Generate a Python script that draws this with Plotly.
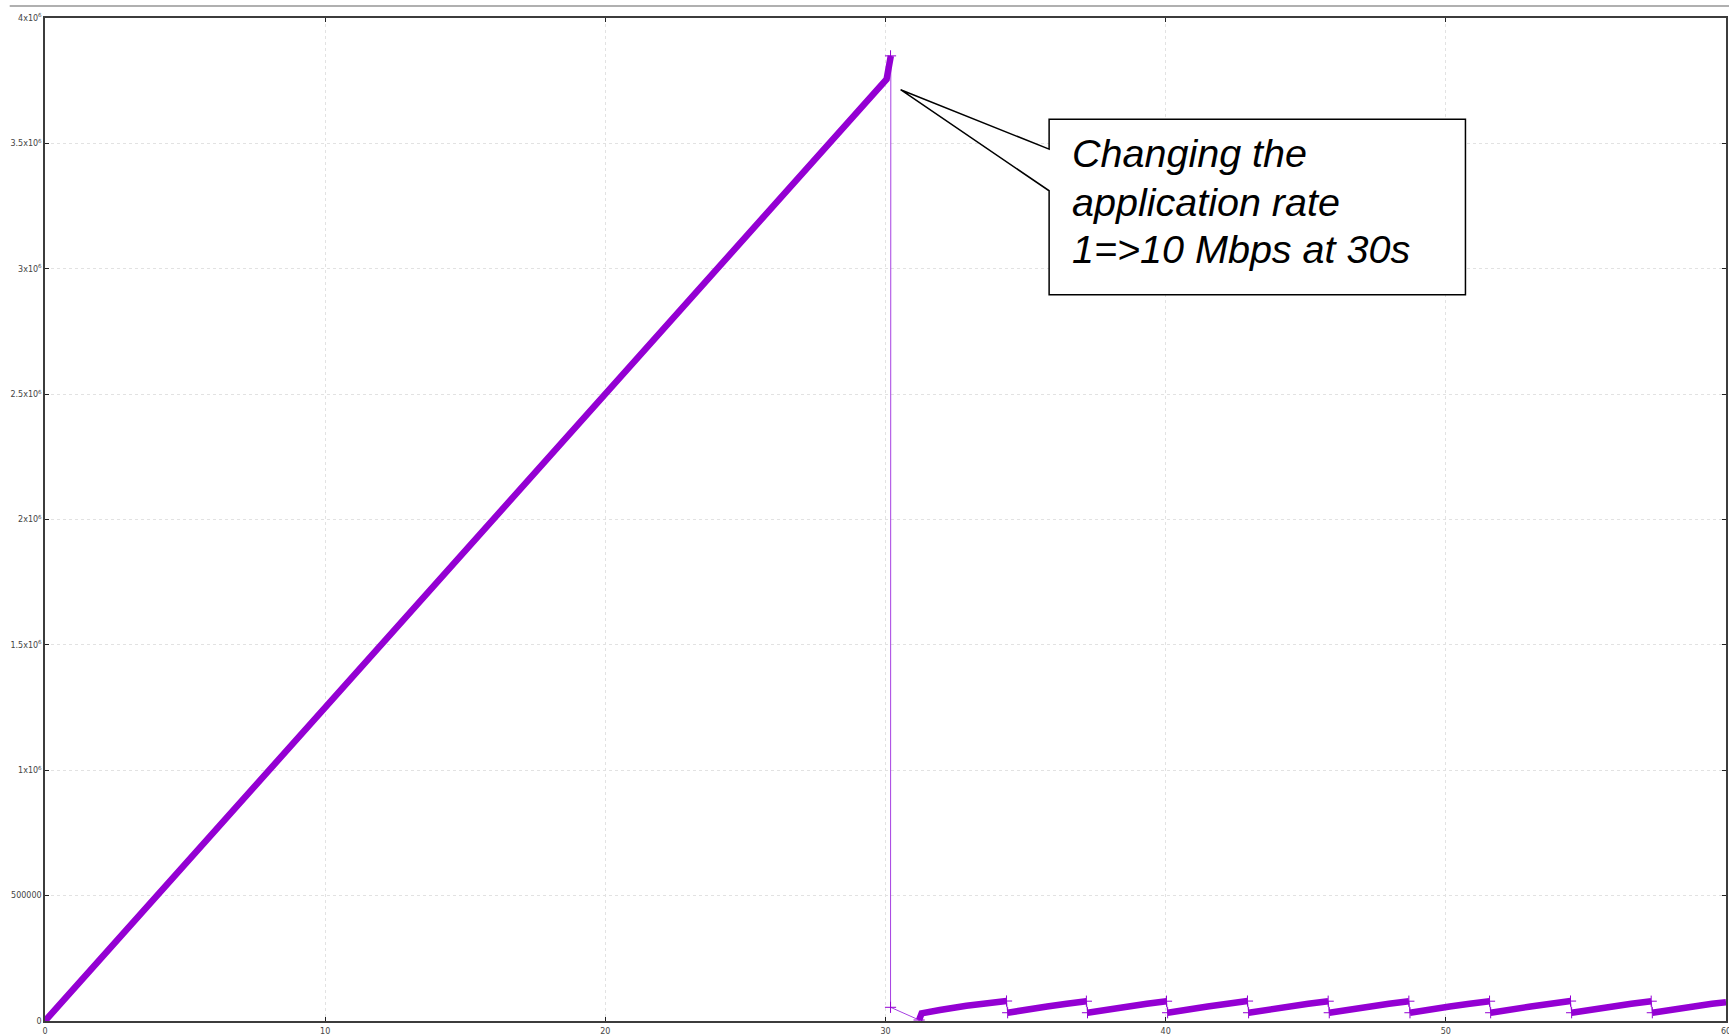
import plotly.graph_objects as go

# Linear growth phase while the application sends at 1 Mbps
ramp_time = [0.0, 10.0, 20.0, 30.04, 30.19]
ramp_bytes = [0, 1250000, 2500000, 3756000, 3849000]

# Collapse after the rate change
reset_time = [30.18, 30.18, 31.20]
reset_bytes = [3849000, 54600, 4000]

# Sawtooth phase after the rate change (one list per tooth)
tooth_times = [
    [31.20, 31.29, 31.94, 32.89, 34.32],
    [34.36, 35.06, 35.77, 36.47, 37.17],
    [37.21, 37.92, 38.62, 39.33, 40.03],
    [40.07, 40.78, 41.50, 42.21, 42.92],
    [42.96, 43.67, 44.38, 45.09, 45.80],
    [45.84, 46.55, 47.26, 47.97, 48.68],
    [48.72, 49.43, 50.14, 50.85, 51.56],
    [51.60, 52.31, 53.03, 53.74, 54.45],
    [54.49, 55.20, 55.91, 56.62, 57.33],
    [57.37, 58.08, 58.79, 59.50, 60.00],
]
tooth_bytes = [
    [4000, 30700, 43800, 61000, 79700],
    [33000, 47000, 58000, 68500, 79000],
    [33000, 47000, 58000, 68500, 79000],
    [33000, 47000, 58000, 68500, 79500],
    [33000, 47000, 58000, 68500, 79000],
    [33000, 47000, 58000, 68500, 79000],
    [33000, 47000, 58000, 68500, 79000],
    [33000, 47000, 58000, 68500, 79500],
    [33000, 47000, 58000, 68500, 79000],
    [33000, 47000, 58000, 68500, 75000],
]

xtick_vals = [0, 10, 20, 30, 40, 50, 60]
ytick_vals = [0, 500000, 1000000, 1500000, 2000000, 2500000, 3000000, 3500000, 4000000]
ytick_text = ["0", "500000", "1x10<sup>6</sup>", "1.5x10<sup>6</sup>", "2x10<sup>6</sup>",
              "2.5x10<sup>6</sup>", "3x10<sup>6</sup>", "3.5x10<sup>6</sup>", "4x10<sup>6</sup>"]

note_lines = ["Changing the", "application rate", "1=>10 Mbps at 30s"]
note_line_y = [3460000, 3268000, 3080000]

PURPLE = "#9400D3"

# Full sample path (thin connecting line)
path_x = list(ramp_time) + list(reset_time[1:])
path_y = list(ramp_bytes) + list(reset_bytes[1:])
for tt, bb in zip(tooth_times, tooth_bytes):
    path_x += tt
    path_y += bb

# Dense stretches drawn heavy (overlapping sample markers)
dense_x = list(ramp_time) + [None]
dense_y = list(ramp_bytes) + [None]
for tt, bb in zip(tooth_times, tooth_bytes):
    dense_x += tt + [None]
    dense_y += bb + [None]

# Isolated samples around each jump
mark_x = list(reset_time)
mark_y = list(reset_bytes)
for i, (tt, bb) in enumerate(zip(tooth_times, tooth_bytes)):
    if i > 0:
        mark_x.append(tt[0])
        mark_y.append(bb[0])
    if i < len(tooth_times) - 1:
        mark_x.append(tt[-1])
        mark_y.append(bb[-1])

fig = go.Figure()
fig.add_trace(go.Scatter(x=path_x, y=path_y, mode="lines",
                         line=dict(color="#a640e2", width=1), hoverinfo="skip"))
fig.add_trace(go.Scatter(x=dense_x, y=dense_y, mode="lines",
                         line=dict(color=PURPLE, width=6.5), hoverinfo="skip"))
fig.add_trace(go.Scatter(x=mark_x, y=mark_y, mode="markers",
                         marker=dict(symbol="cross-thin", size=8,
                                     line=dict(color=PURPLE, width=1)),
                         hoverinfo="skip"))

axis_common = dict(
    showgrid=True, gridcolor="#e2e2e2", gridwidth=1, griddash="dot",
    showline=True, linecolor="#3c3c3c", linewidth=1.5, mirror="ticks",
    ticks="inside", ticklen=4, tickcolor="#222", tickwidth=1,
    zeroline=False, ticklabeloverflow="allow",
    tickfont=dict(family="DejaVu Sans", size=8, color="#444"),
)

fig.update_layout(
    width=1729, height=1035,
    margin=dict(l=45, r=3, t=18, b=14, autoexpand=False),
    paper_bgcolor="white", plot_bgcolor="white",
    showlegend=False,
    xaxis=dict(range=[0, 60], tickvals=xtick_vals, automargin=False,
               ticklabelstandoff=2, **axis_common),
    yaxis=dict(range=[0, 4000000], tickvals=ytick_vals, ticktext=ytick_text,
               automargin=False, **axis_common),
)

# Callout box with a wedge pointing at the peak
fig.add_shape(
    type="path", xref="x", yref="y", layer="above",
    path="M 35.84,3477000 L 30.54,3714000 L 35.84,3311000 L 35.84,2896000 "
         "L 50.70,2896000 L 50.70,3596000 L 35.84,3596000 Z",
    line=dict(color="black", width=1.5), fillcolor="white",
)
for line_text, line_y in zip(note_lines, note_line_y):
    fig.add_annotation(
        x=36.58, y=line_y, xref="x", yref="y", xanchor="left", yanchor="middle",
        text=line_text, showarrow=False, align="left",
        font=dict(family="Liberation Sans", size=39.5, color="black", style="italic"),
    )

# Thin rule across the top of the page
fig.add_shape(type="line", xref="paper", yref="paper",
              x0=-0.021, x1=1.01, y0=1.012, y1=1.012,
              line=dict(color="#b0b0b0", width=2))

fig.write_html("out.html", config={"displayModeBar": False})
